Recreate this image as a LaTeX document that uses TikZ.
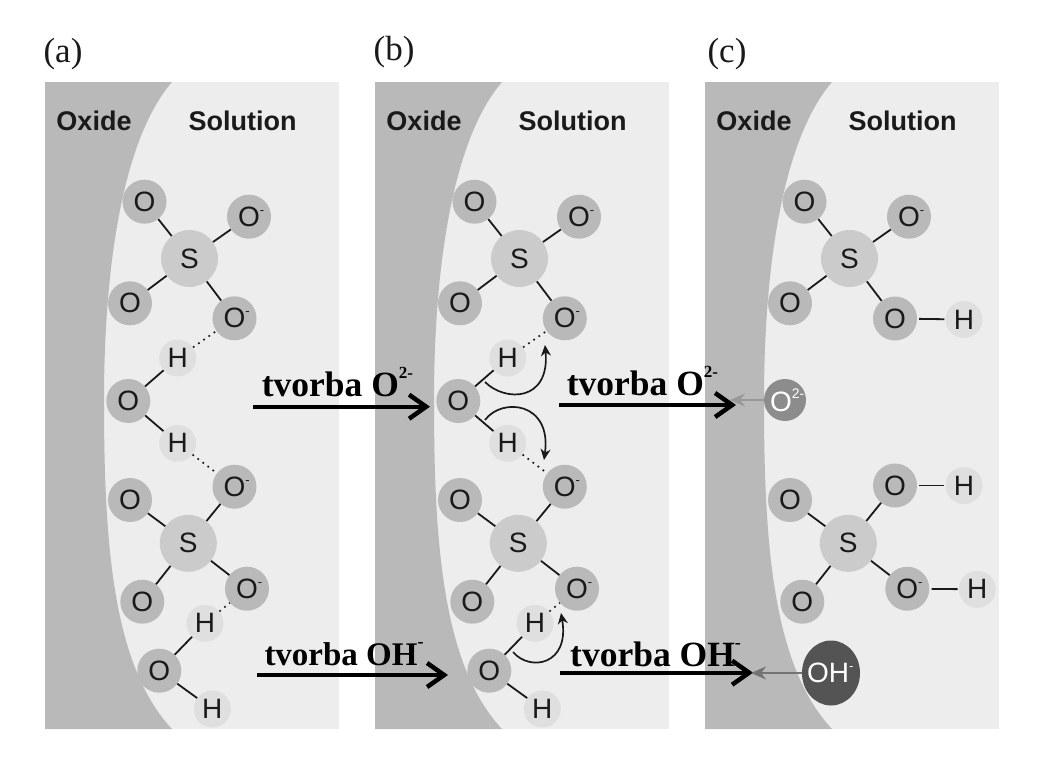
\documentclass[tikz,border=0pt]{standalone}
\usepackage{fontspec}
\setmainfont{Liberation Serif}
\setsansfont{Liberation Sans}
\usetikzlibrary{arrows.meta,shapes.geometric}
\definecolor{oxg}{HTML}{B9B9B9}
\definecolor{solg}{HTML}{EDEDED}
\definecolor{atomO}{HTML}{B9B9B9}
\definecolor{atomS}{HTML}{CBCBCB}
\definecolor{atomH}{HTML}{DFDFDF}
\definecolor{inkc}{HTML}{1A1A1A}
\newcommand{\atomfont}{\sffamily\fontsize{28}{28}\selectfont}
\newcommand{\Ominus}{O\rlap{\raisebox{12pt}{\fontsize{13}{13}\selectfont -}}}
\newcommand{\supTwo}{\raisebox{18pt}{\fontsize{17}{17}\selectfont 2-}}
\newcommand{\supOne}{\raisebox{18pt}{\fontsize{18}{18}\selectfont -}}
\tikzset{
  ox/.style={circle,fill=atomO,minimum size=44pt,inner sep=0pt,text=inkc,font=\atomfont},
  su/.style={circle,fill=atomS,minimum size=57pt,inner sep=0pt,text=inkc,font=\atomfont},
  hy/.style={circle,fill=atomH,minimum size=37pt,inner sep=0pt,text=inkc,font=\atomfont},
  bond/.style={line width=1.8pt,draw=inkc},
  gapbond/.style={bond,shorten <=2pt,shorten >=1pt},
  hbond/.style={line width=1.7pt,draw=inkc,dash pattern=on 1.7pt off 4.6pt},
  region/.style={font=\sffamily\bfseries\fontsize{27}{27}\selectfont,text=inkc},
  tag/.style={font=\fontsize{35}{35}\selectfont,text=inkc},
  rxn/.style={font=\bfseries\fontsize{35.5}{35.5}\selectfont,text=black,inner sep=0pt,anchor=base west},
  bigarrow/.style={line width=4.3pt,draw=black,-{Straight Barb[length=17pt,width=24pt,line width=4.5pt]}},
  curl/.style={line width=1.7pt,draw=inkc,-{Stealth[length=11pt,width=10pt]}},
  exit/.style={line width=2.6pt,-{Stealth[length=15pt,width=13pt]}}
}
\begin{document}
\begin{tikzpicture}[x=1pt,y=-1pt]
\useasboundingbox (0,0) rectangle (1055,766);
\fill[white] (0,0) rectangle (1055,766);
\foreach \s in {0,330,660}{
  \begin{scope}[xshift=\s pt]
  \fill[solg] (45,82) rectangle (339,729);
  \fill[oxg] (45,82) -- (172,82) .. controls (122,140) and (104,270) .. (104,400) .. controls (104,540) and (112,665) .. (172,729) -- (45,729) -- cycle;
  \end{scope}
}
\node[tag] (ta) at (63,54) {(a)};
\node[tag] (tb) at (394,52) {(b)};
\node[tag] (tc) at (727,54) {(c)};
\node[region] (oxa) at (94,120.5) {Oxide};
\node[region] (sola) at (242.5,120.5) {Solution};
\node[region] (oxb) at (424,120.5) {Oxide};
\node[region] (solb) at (572.5,120.5) {Solution};
\node[region] (oxc) at (754,120.5) {Oxide};
\node[region] (solc) at (902.5,120.5) {Solution};

% panel a
\node[ox] (a1) at (144.5,201.7) {O};
\node[ox] (a2) at (249,216.7) {\Ominus};
\node[su] (a3) at (189.5,258.5) {S};
\node[ox] (a4) at (130,303.3) {O};
\node[ox] (a5) at (234.5,318.3) {\Ominus};
\node[hy] (a6) at (177.7,358) {H};
\node[ox] (a7) at (128.3,401) {O};
\node[hy] (a8) at (177.7,443.3) {H};
\node[ox] (a9) at (234.5,486.7) {\Ominus};
\node[ox] (a10) at (130,500) {O};
\node[su] (a11) at (188.3,543.3) {S};
\node[ox] (a12) at (142.3,601.7) {O};
\node[ox] (a13) at (247,588.7) {\Ominus};
\node[hy] (a14) at (205,623.3) {H};
\node[ox] (a15) at (159.3,670.7) {O};
\node[hy] (a16) at (212.3,709) {H};
\draw[bond] (a3)--(a1); \draw[bond] (a3)--(a2); \draw[bond] (a3)--(a4); \draw[bond] (a3)--(a5);
\draw[hbond] (a6)--(a5); \draw[bond] (a7)--(a6); \draw[bond] (a7)--(a8); \draw[hbond] (a8)--(a9);
\draw[bond] (a11)--(a9); \draw[bond] (a11)--(a10); \draw[bond] (a11)--(a12); \draw[bond] (a11)--(a13);
\draw[hbond] (a14)--(a13); \draw[bond] (a15)--(a14); \draw[bond] (a15)--(a16);

% panel b
\node[ox] (b1) at (474.5,201.7) {O};
\node[ox] (b2) at (579,216.7) {\Ominus};
\node[su] (b3) at (519.5,258.5) {S};
\node[ox] (b4) at (460,303.3) {O};
\node[ox] (b5) at (564.8,318.3) {\Ominus};
\node[hy] (b6) at (507.7,358) {H};
\node[ox] (b7) at (458.3,401) {O};
\node[hy] (b8) at (507.7,443.3) {H};
\node[ox] (b9) at (564.8,486.7) {\Ominus};
\node[ox] (b10) at (460,500) {O};
\node[su] (b11) at (518.3,543.3) {S};
\node[ox] (b12) at (472.3,601.7) {O};
\node[ox] (b13) at (577,588.7) {\Ominus};
\node[hy] (b14) at (535,623.3) {H};
\node[ox] (b15) at (489.3,670.7) {O};
\node[hy] (b16) at (542.3,709) {H};
\draw[bond] (b3)--(b1); \draw[bond] (b3)--(b2); \draw[bond] (b3)--(b4); \draw[bond] (b3)--(b5);
\draw[hbond] (b6)--(b5); \draw[bond] (b7)--(b6); \draw[bond] (b7)--(b8); \draw[hbond] (b8)--(b9);
\draw[bond] (b11)--(b9); \draw[bond] (b11)--(b10); \draw[bond] (b11)--(b12); \draw[bond] (b11)--(b13);
\draw[hbond] (b14)--(b13); \draw[bond] (b15)--(b14); \draw[bond] (b15)--(b16);
\coordinate (c1s) at (485,382); \coordinate (c1e) at (545,345);
\coordinate (c2s) at (485,420); \coordinate (c2e) at (544,460);
\coordinate (c3s) at (513,652); \coordinate (c3e) at (561,613);
\draw[curl] (c1s) .. controls (505,402) and (550,402) .. (c1e);
\draw[curl] (c2s) .. controls (502,397) and (552,402) .. (c2e);
\draw[curl] (c3s) .. controls (530,672) and (570,665) .. (c3e);

% panel c
\node[ox] (c1) at (804.5,201.7) {O};
\node[ox] (c2) at (909,216.7) {\Ominus};
\node[su] (c3) at (849.5,258.5) {S};
\node[ox] (c4) at (790,303.3) {O};
\node[ox] (c5) at (895,318.5) {O};
\node[hy] (c6) at (964,319.5) {H};
\node[circle,fill=black!45,minimum size=42pt,inner sep=0pt,text=white,font=\atomfont] (c7) at (785,400) {\hspace*{-8pt}O\rlap{\raisebox{13pt}{\fontsize{14}{14}\selectfont 2-}}};
\node[ox] (c8) at (790,500) {O};
\node[ox] (c9) at (895,485.5) {O};
\node[hy] (c10) at (964,485.5) {H};
\node[su] (c11) at (848.3,543.3) {S};
\node[ox] (c12) at (802.3,601.7) {O};
\node[ox] (c13) at (907.3,588.7) {\Ominus};
\node[hy] (c14) at (977.3,589.3) {H};
\node[ellipse,fill=black!67,minimum width=58pt,minimum height=65pt,inner sep=0pt,text=white,font=\atomfont] (c15) at (831,673) {\hspace*{-6pt}OH\rlap{\raisebox{12pt}{\fontsize{13}{13}\selectfont -}}};
\draw[bond] (c3)--(c1); \draw[bond] (c3)--(c2); \draw[bond] (c3)--(c4); \draw[bond] (c3)--(c5);
\draw[gapbond] (c5)--(c6); \draw[bond] (c11)--(c8); \draw[bond] (c11)--(c9); \draw[bond] (c11)--(c12); \draw[bond] (c11)--(c13);
\draw[gapbond] (c9)--(c10); \draw[gapbond] (c13)--(c14);

% reaction arrows
\coordinate (r1s) at (253,406.7); \coordinate (r1e) at (430,406.7);
\coordinate (r2s) at (559,405); \coordinate (r2e) at (736,405);
\coordinate (r3s) at (257,675); \coordinate (r3e) at (448,675);
\coordinate (r4s) at (560,672.7); \coordinate (r4e) at (753,672.7);
\draw[bigarrow] (r1s)--(r1e);
\draw[bigarrow] (r2s)--(r2e);
\draw[bigarrow] (r3s)--(r3e);
\draw[bigarrow] (r4s)--(r4e);
\coordinate (g1) at (730,400); \coordinate (g2) at (751,673);
\draw[exit,draw=black!40,fill=black!40] (c7)--(g1);
\draw[exit,draw=black!55,fill=black!55] (c15)--(g2);
\node[rxn] (l1) at (261.7,396) {tvorba O\supTwo};
\node[rxn] (l2) at (566.7,395) {tvorba O\supTwo};
\node[rxn,font=\bfseries\fontsize{33}{33}\selectfont] (l3) at (264.3,665.7) {tvorba OH\supOne};
\node[rxn] (l4) at (570,666) {tvorba OH\supOne};
\end{tikzpicture}
\end{document}
